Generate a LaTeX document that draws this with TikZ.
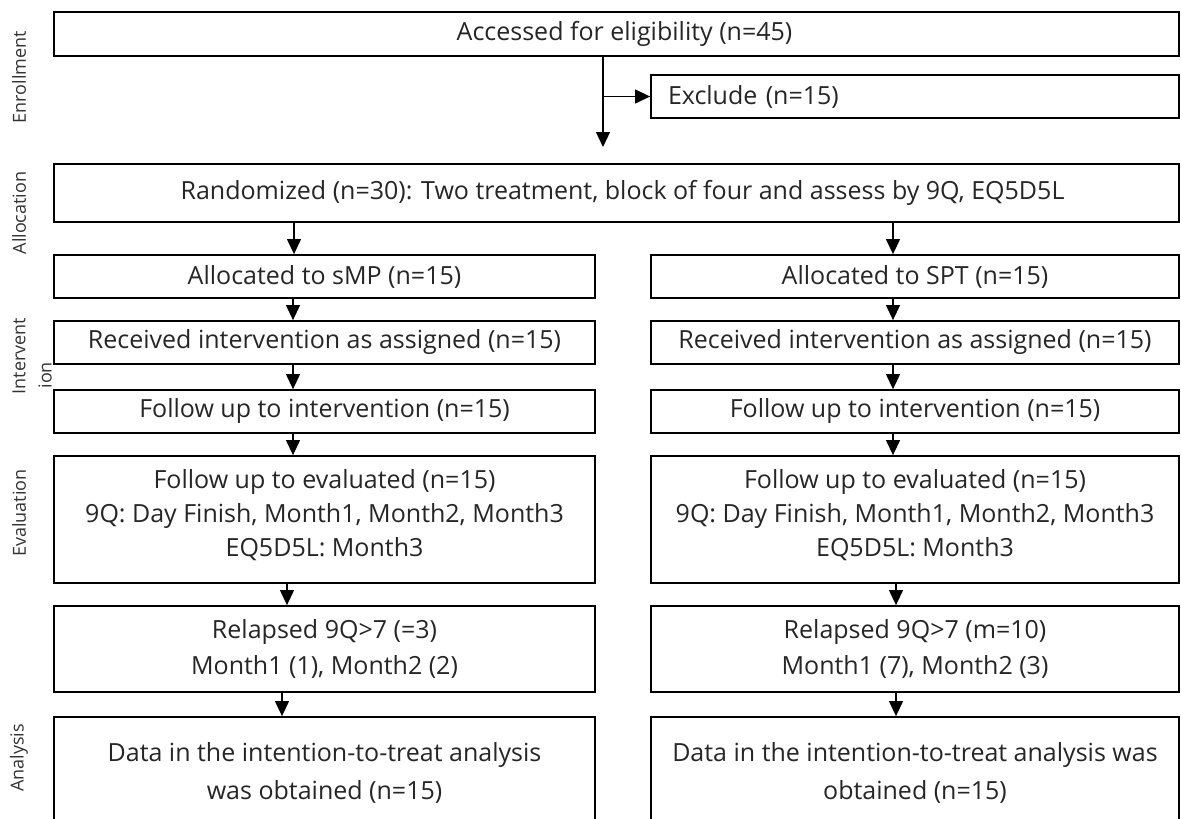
\documentclass[tikz,border=0pt]{standalone}
\usepackage{fontspec}
\setmainfont{Open Sans}
\usetikzlibrary{arrows.meta}
\begin{document}
\begin{tikzpicture}[x=1pt,y=-1pt,
  box/.style={draw, line width=1.8pt, fill=white, inner sep=0pt,
    font=\fontsize{25}{34}\selectfont, text=black!85, align=center},
  arr/.style={line width=1.2pt, -{Triangle[length=15pt,width=14pt]}},
  side/.style={rotate=90, font=\fontsize{18}{20}\selectfont, text=black!80}]
\useasboundingbox (0,0) rectangle (1181,819);
\clip (0,0) rectangle (1181,819);

% stage labels
\node[side] (lenr) at (19,77) {Enrollment};
\node[side] (lall) at (19,213) {Allocation};
\node[side] (lint) at (19,356) {Intervent};
\node[side, anchor=west] (lint2) at (45,392) {ion};
\node[side] (leva) at (19,513) {Evaluation};
\node[side] (lana) at (19,758) {Analysis};

% boxes
\node[box, minimum width=1125pt, minimum height=44pt] (acc) at (616.5,34) {\hspace*{16pt}Accessed for eligibility (n=45)};
\node[box, minimum width=528pt, minimum height=43pt, text width=494pt, align=left, inner xsep=17pt] (exc) at (915,96.5) {Exclude (n=15)};
\node[box, minimum width=1125pt, minimum height=58pt] (rand) at (616.5,193) {\hspace*{12pt}Randomized (n=30): Two treatment, block of four and assess by 9Q, EQ5D5L};

\node[box, minimum width=541pt, minimum height=43pt] (al1) at (324.5,276.5) {Allocated to sMP (n=15)};
\node[box, minimum width=528pt, minimum height=43pt] (al2) at (915,276.5) {Allocated to SPT (n=15)};
\node[box, minimum width=541pt, minimum height=43pt] (rec1) at (324.5,342.5) {Received intervention as assigned (n=15)};
\node[box, minimum width=528pt, minimum height=43pt] (rec2) at (915,342.5) {Received intervention as assigned (n=15)};
\node[box, minimum width=541pt, minimum height=43pt] (fol1) at (324.5,411.5) {Follow up to intervention (n=15)};
\node[box, minimum width=528pt, minimum height=43pt] (fol2) at (915,411.5) {Follow up to intervention (n=15)};
\node[box, minimum width=541pt, minimum height=127pt, text depth=14pt] (ev1) at (324.5,519.5) {Follow up to evaluated (n=15)\\9Q: Day Finish, Month1, Month2, Month3\\EQ5D5L: Month3};
\node[box, minimum width=528pt, minimum height=127pt, text depth=14pt] (ev2) at (915,519.5) {Follow up to evaluated (n=15)\\9Q: Day Finish, Month1, Month2, Month3\\EQ5D5L: Month3};
\node[box, minimum width=541pt, minimum height=86pt] (rel1) at (324.5,649) {Relapsed 9Q>7 (=3)\\[2pt]Month1 (1), Month2 (2)};
\node[box, minimum width=528pt, minimum height=86pt] (rel2) at (915,649) {Relapsed 9Q>7 (m=10)\\[2pt]Month1 (7), Month2 (3)};
\node[box, minimum width=541pt, minimum height=120pt, text depth=12pt] (an1) at (324.5,777) {Data in the intention-to-treat analysis\\[4pt]was obtained (n=15)};
\node[box, minimum width=528pt, minimum height=120pt, text depth=12pt] (an2) at (915,777) {Data in the intention-to-treat analysis was\\[4pt]obtained (n=15)};

% connectors
\coordinate (ct) at (603,0);
\coordinate (cend) at (603,147);
\draw[line width=1.2pt] (ct |- acc.south) -- (ct |- exc.west);
\draw[arr] (ct |- exc.west) -- (cend);
\draw[arr] (ct |- exc.west) -- (exc.west);

\coordinate (xa) at (294,0);
\coordinate (xb) at (293,0);
\coordinate (xc) at (287,0);
\coordinate (xd) at (282,0);
\coordinate (ya) at (893,0);
\coordinate (yb) at (896,0);
\draw[arr] (xa |- rand.south) -- (xa |- al1.north);
\draw[arr] (ya |- rand.south) -- (ya |- al2.north);
\draw[arr] (xb |- al1.south) -- (xb |- rec1.north);
\draw[arr] (ya |- al2.south) -- (ya |- rec2.north);
\draw[arr] (xb |- rec1.south) -- (xb |- fol1.north);
\draw[arr] (ya |- rec2.south) -- (ya |- fol2.north);
\draw[arr] (xb |- fol1.south) -- (xb |- ev1.north);
\draw[arr] (ya |- fol2.south) -- (ya |- ev2.north);
\draw[arr] (xc |- ev1.south) -- (xc |- rel1.north);
\draw[arr] (yb |- ev2.south) -- (yb |- rel2.north);
\draw[arr] (xd |- rel1.south) -- (xd |- an1.north);
\draw[arr] (yb |- rel2.south) -- (yb |- an2.north);
\end{tikzpicture}
\end{document}
